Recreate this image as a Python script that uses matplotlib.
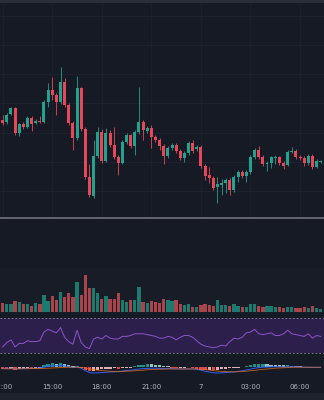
import numpy as np
import matplotlib
matplotlib.use('Agg')
from matplotlib import pyplot as plt

# 15 minute candles, 12:00 -> 07:15 next day
opens = [130, 128, 136, 142, 117, 126, 123, 132, 127, 129,
         128, 148, 160, 155, 148, 168, 145, 127, 112, 162,
         121, 73, 54, 94, 118, 89, 117, 105, 93, 87,
         108, 115, 104, 118, 128, 119, 122, 113, 110, 104,
         94, 102, 105, 99, 92, 97, 107, 101, 103, 84,
         75, 72, 63, 65, 67, 70, 60, 73, 78, 74,
         78, 93, 100, 93, 86, 87, 92, 93, 87, 85,
         98, 99, 93, 92, 87, 94, 83, 88]
highs = [135, 137, 143, 143, 127, 128, 134, 134, 131, 134,
         150, 167, 173, 157, 183, 172, 147, 129, 174, 163,
         123, 86, 110, 123, 121, 122, 120, 123, 95, 110,
         117, 116, 120, 163, 130, 124, 125, 115, 112, 106,
         104, 107, 107, 101, 99, 109, 110, 105, 105, 86,
         83, 74, 73, 71, 72, 72, 75, 80, 80, 80,
         95, 102, 104, 95, 89, 94, 95, 94, 89, 100,
         103, 101, 95, 94, 96, 96, 91, 90]
lows = [125, 126, 135, 115, 114, 121, 122, 119, 126, 127,
        127, 143, 150, 135, 146, 143, 125, 100, 110, 119,
        71, 53, 52, 92, 87, 88, 103, 91, 75, 86,
        106, 102, 95, 116, 110, 117, 102, 108, 100, 86,
        92, 100, 97, 90, 88, 95, 97, 99, 82, 70,
        67, 60, 47, 55, 57, 55, 58, 68, 72, 68,
        76, 91, 91, 84, 79, 82, 86, 85, 81, 84,
        97, 91, 90, 84, 85, 81, 82, 87]
closes = [127, 135, 142, 117, 126, 123, 132, 126, 129, 128,
          148, 160, 155, 148, 168, 145, 127, 112, 162, 121,
          73, 55, 94, 118, 89, 117, 105, 93, 87, 108,
          115, 104, 118, 128, 120, 122, 113, 110, 104, 94,
          102, 105, 99, 92, 97, 107, 99, 103, 84, 74,
          72, 62, 66, 67, 70, 60, 73, 78, 74, 78,
          93, 100, 93, 86, 87, 93, 93, 87, 84, 98,
          99, 93, 92, 87, 94, 83, 89, 89]

volumes = [9, 7.7, 7.7, 11.3, 10, 8.3, 7.7, 6.3, 8.7, 7.7,
           17, 11.3, 15.7, 11.7, 19.7, 15, 19, 15, 29.7, 16.7,
           37.3, 23.7, 23.7, 19, 13.3, 16.3, 13.3, 13.3, 19, 12.3,
           10.3, 11.7, 11.7, 25, 9.7, 9, 11.3, 10, 9.3, 13.3,
           11.7, 11, 11.7, 7.7, 6.7, 7.7, 5, 5.3, 7, 7.7,
           6.7, 6.3, 12.3, 6.7, 6.7, 5.7, 8.3, 5.7, 5, 5,
           8.3, 8.3, 6.3, 5.3, 5.7, 5.7, 5, 5, 3.7, 5,
           5, 3.7, 3.7, 5.3, 3.7, 5.7, 3.7, 3]

rsi = [37, 42, 45, 37, 41, 41, 44, 43, 43, 44,
       54, 57, 55, 53, 59, 48, 43, 40, 56, 42,
       37, 35, 46, 48, 46, 50, 47, 46, 46, 49,
       49, 50, 52, 52, 52, 51, 50, 49, 47, 47,
       49, 48, 45, 48, 50, 50, 48, 44, 40, 38,
       37, 36, 37, 39, 38, 43, 47, 46, 48, 53,
       54, 57, 52, 51, 52, 53, 50, 50, 52, 56,
       52, 51, 50, 49, 52, 47, 50, 49]

macd_line = [-0.6, -0.7, -0.6, -0.9, -0.9, -0.8, -0.7, -0.7, -0.6, -0.5,
             -0.1, 0.4, 0.6, 0.6, 0.8, 0.5, 0.2, -0.3, 0.0, -0.6,
             -1.8, -2.8, -3.0, -2.9, -2.8, -2.6, -2.5, -2.4, -2.3, -2.0,
             -1.7, -1.6, -1.3, -1.0, -0.8, -0.7, -0.6, -0.6, -0.7, -0.8,
             -0.8, -0.8, -0.9, -1.0, -1.0, -0.9, -1.0, -1.1, -1.6, -2.1,
             -2.5, -2.9, -3.0, -2.9, -2.8, -2.6, -2.5, -2.2, -1.9, -1.5,
             -1.1, -0.6, -0.3, -0.1, 0.0, 0.1, 0.1, 0.1, 0.0, 0.1,
             0.2, 0.1, 0.0, -0.1, -0.1, -0.2, -0.2, -0.2]
signal_line = [-0.9, -0.9, -0.9, -0.9, -0.9, -0.9, -0.9, -0.8, -0.8, -0.8,
               -0.7, -0.6, -0.5, -0.4, -0.3, -0.2, -0.1, -0.1, -0.1, -0.2,
               -0.5, -0.9, -1.3, -1.6, -1.8, -2.0, -2.1, -2.2, -2.2, -2.2,
               -2.1, -2.0, -1.9, -1.7, -1.6, -1.4, -1.3, -1.2, -1.1, -1.1,
               -1.0, -1.0, -1.0, -1.0, -1.0, -1.0, -1.0, -1.0, -1.1, -1.3,
               -1.5, -1.8, -2.0, -2.2, -2.3, -2.4, -2.4, -2.4, -2.3, -2.1,
               -1.9, -1.7, -1.4, -1.2, -1.0, -0.8, -0.6, -0.5, -0.4, -0.3,
               -0.2, -0.1, -0.1, -0.1, -0.1, -0.1, -0.1, -0.1]
hist = [-1.0, -1.2, -0.8, -1.4, -1.1, -0.9, -0.7, -0.8, -0.6, -0.4,
        1.0, 1.6, 1.8, 1.7, 2.0, 1.5,
        0.9, 0.4, 0.6, -0.3,
        -1.5, -2.2, -2.0, -1.6, -1.2,
        -0.9, -0.8, -0.7, -0.8, -0.6, -0.4, -0.3,
        0.4, 0.8, 1.2, 1.4, 1.3, 1.1, 0.9,
        0.6, 0.3, -0.3, -0.5, -0.4, -0.3, -0.2, -0.4,
        -0.9, -1.3, -1.6, -1.5, -1.7, -1.4,
        -1.1, -0.9, -0.7, -0.5, -0.3, -0.1,
        0.4, 0.9, 1.3, 1.5, 1.6, 1.4, 1.2, 1.1, 1.0, 0.8, 0.9, 0.7,
        0.5, 0.3, 0.2, 0.2, 0.1, 0.2, 0.1]

tick_pos = [0, 12, 24, 36, 48, 60, 72]
tick_labels = ['12:00', '15:00', '18:00', '21:00', '7', '03:00', '06:00']

BG = '#161a25'
UP = '#22a28e'
DOWN = '#e8475a'
W, H = 324, 400
XLIM = (-0.65, 77.8)

fig = plt.figure(figsize=(3.24, 4.0), dpi=100, facecolor=BG)


def pane(top, bottom):
    ax = fig.add_axes([0, 1 - bottom / H, 1, (bottom - top) / H])
    ax.set_facecolor('none')
    ax.set_xlim(*XLIM)
    ax.axis('off')
    return ax


# background decorations in pixel coords
bg = fig.add_axes([0, 0, 1, 1])
bg.set_xlim(0, W)
bg.set_ylim(H, 0)
bg.axis('off')
bg.add_patch(plt.Rectangle((0, 0), W, 3, color='#2a2e39', lw=0))
bg.add_patch(plt.Rectangle((0, 268), W, 45, color='#181c27', lw=0))
bg.add_patch(plt.Rectangle((0, 393), W, 7, color='#1e222d', lw=0))
bg.axhline(218, color='#6a6d78', lw=1.3)
for gy in [16, 45, 74, 103, 133, 162, 191]:
    bg.axhline(gy, color='#1f2330', lw=0.6)

idx = np.arange(len(opens))
o = np.array(opens)
c = np.array(closes)
up = c >= o
cols = [UP if u else DOWN for u in up]

# price
ax = pane(3, 217)
ax.set_ylim(33, 247)
for xv in tick_pos:
    ax.axvline(xv, color='#1c202b', lw=0.6, zorder=0)
ax.vlines(idx, lows, highs, colors=cols, lw=0.6, zorder=2)
body = np.maximum(np.abs(c - o), 0.8)
ax.bar(idx, body, bottom=np.minimum(o, c), width=0.72, color=cols, lw=0, zorder=3)

# volume
axv = pane(268, 312)
axv.set_ylim(0, 44)
vcols = ['#1c7a6e' if u else '#a8444a' for u in up]
axv.bar(idx, volumes, width=0.8, color=vcols, lw=0)

# rsi
axr = pane(313, 358)
axr.set_ylim(24.3, 75.7)
axr.axhspan(30, 70, color='#2d1f4c', lw=0)
for lv in (30, 70):
    axr.axhline(lv, color='#8a8d98', lw=0.6, ls=(0, (2, 2.5)))
axr.plot(idx, rsi, color='#8b55c9', lw=0.7)

# macd
axm = pane(358, 378)
axm.set_ylim(-5.5, 4.5)
hcols = []
prev = 0
for h in hist:
    if h >= 0:
        hcols.append('#26a69a' if h > prev else '#b2dfdb')
    else:
        hcols.append('#ff5252' if h < prev else '#ffcdd2')
    prev = h
axm.bar(idx, hist, width=0.8, color=hcols, lw=0, alpha=0.85)
axm.plot(idx, macd_line, color='#2962ff', lw=0.7)
axm.plot(idx, signal_line, color='#ff6d00', lw=0.6, alpha=0.8)

# time axis
axt = pane(380, 393)
axt.set_ylim(0, 1)
for p, lab in zip(tick_pos, tick_labels):
    axt.text(p, 0.45, lab, color='#b2b5be', fontsize=5, ha='center', va='center')

fig.savefig('out.png', dpi=100, facecolor=BG)
